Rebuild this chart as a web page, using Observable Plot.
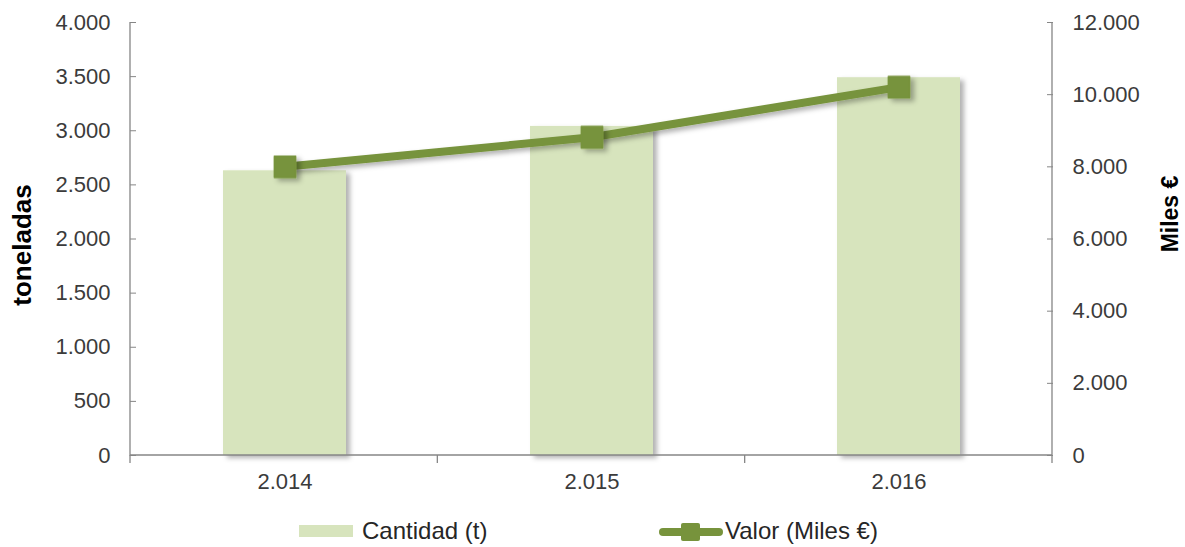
<!DOCTYPE html>
<html><head><meta charset="utf-8">
<script src="https://cdn.jsdelivr.net/npm/d3@7"></script>
<script src="https://cdn.jsdelivr.net/npm/@observablehq/plot@0.6"></script>
<style>
body{margin:0;background:#fff;font-family:"Liberation Sans",Arial,sans-serif;}
#wrap{position:relative;width:1185px;height:547px;overflow:hidden;}
#legend{position:absolute;left:0;top:500px;width:1185px;height:47px;}
.lg{position:absolute;}
.txt{font-size:24px;color:#262626;line-height:24px;white-space:nowrap;}
</style></head><body><div id="wrap"></div><script>
const years = ["2.014", "2.015", "2.016"];
const cantidad = [2630, 3040, 3490];
const valor = [8000, 8820, 10210];
const yTicksLeft = [0, 500, 1000, 1500, 2000, 2500, 3000, 3500, 4000];
const yTicksRight = [0, 2000, 4000, 6000, 8000, 10000, 12000];
const seriesNames = ["Cantidad (t)", "Valor (Miles €)"];
const axisLabels = ["toneladas", "Miles €"];

const barColor = "#d7e4bd", lineColor = "#77933c", axisColor = "#868686";
const leftMax = 4000, rightMax = 12000, k = rightMax / leftMax;
const locale = d3.formatLocale({decimal: ",", thousands: ".", grouping: [3], currency: ["", "€"]});
const fmt = locale.format(",d");

const data = years.map((y, i) => ({year: y, cantidad: cantidad[i], valor: valor[i]}));

function axesFrame(index, scales, values, dims) {
  const {width, height, marginLeft, marginRight, marginTop, marginBottom} = dims;
  const x0 = marginLeft, x1 = width - marginRight, yb = height - marginBottom, yt = marginTop;
  const step = (x1 - x0) / years.length;
  const g = d3.create("svg:g").attr("fill", "none").attr("stroke", axisColor).attr("stroke-width", 1.3);
  g.append("path").attr("d", `M${x0},${yt}V${yb}H${x1}V${yt}`);
  const bounds = d3.range(years.length + 1).map(i => x0 + i * step);
  g.selectAll("line.b").data(bounds).join("line")
    .attr("x1", d => d).attr("x2", d => d).attr("y1", yb).attr("y2", yb + 8);
  return g.node();
}

const chart = Plot.plot({
  width: 1185, height: 500,
  marginLeft: 130, marginRight: 133, marginTop: 22, marginBottom: 45,
  style: {fontFamily: "'Liberation Sans', Arial, sans-serif", fontSize: "22px", color: "#3b3b3b", background: "transparent", overflow: "visible"},
  x: {type: "band", domain: years, paddingInner: 0.6, paddingOuter: 0.3},
  y: {domain: [0, leftMax]},
  marks: [
    Plot.barY(data, {x: "year", y: "cantidad", fill: barColor}),
    axesFrame,
    Plot.axisX({tickSize: 0, tickPadding: 18, label: null, fill: "#3b3b3b"}),
    Plot.axisY({anchor: "left", ticks: yTicksLeft, tickFormat: fmt, tickSize: 6, dx: 6, tickPadding: 20, stroke: axisColor, label: null, fill: "#3b3b3b"}),
    Plot.axisY({anchor: "right", ticks: yTicksRight.map(v => v / k), tickFormat: v => fmt(Math.round(v * k)), tickSize: 6, dx: -6, tickPadding: 20, stroke: axisColor, label: null, fill: "#3b3b3b"}),
    Plot.line(data, {x: "year", y: d => d.valor / k, stroke: lineColor, strokeWidth: 8}),
    Plot.dot(data, {x: "year", y: d => d.valor / k, symbol: "square", r: 12, fill: lineColor, stroke: lineColor, strokeWidth: 1.5, strokeLinejoin: "round"}),
    Plot.text([axisLabels[0]], {frameAnchor: "left", textAnchor: "middle", dx: -108, dy: 6, rotate: -90, fontSize: 26, fontWeight: "bold", fill: "#000"}),
    Plot.text([axisLabels[1]], {frameAnchor: "right", textAnchor: "middle", dx: 118, dy: -25, rotate: -90, fontSize: 23, fontWeight: "bold", fill: "#000"})
  ]
});

const svg = d3.select(chart);
svg.insert("defs", ":first-child").html(
  `<filter id="sh" x="-20%" y="-20%" width="150%" height="150%">
     <feDropShadow dx="4" dy="3" stdDeviation="2.5" flood-color="#000" flood-opacity="0.3"/>
   </filter>`);
svg.selectAll('g[aria-label="bar"], g[aria-label="line"], g[aria-label="dot"]').attr("filter", "url(#sh)");

const wrap = document.getElementById("wrap");
wrap.appendChild(chart);

const legend = document.createElement("div");
legend.id = "legend";
legend.innerHTML = `
  <div class="lg" style="left:299px;top:25px;width:54px;height:12px;background:${barColor}"></div>
  <div class="lg txt" style="left:362px;top:19px">${seriesNames[0]}</div>
  <div class="lg" style="left:659px;top:28px;width:64px;height:8px;border-radius:4px;background:${lineColor}"></div>
  <div class="lg" style="left:681px;top:23px;width:19px;height:18px;border-radius:2px;background:${lineColor}"></div>
  <div class="lg txt" style="left:725px;top:19px">${seriesNames[1]}</div>`;
wrap.appendChild(legend);
</script></body></html>
